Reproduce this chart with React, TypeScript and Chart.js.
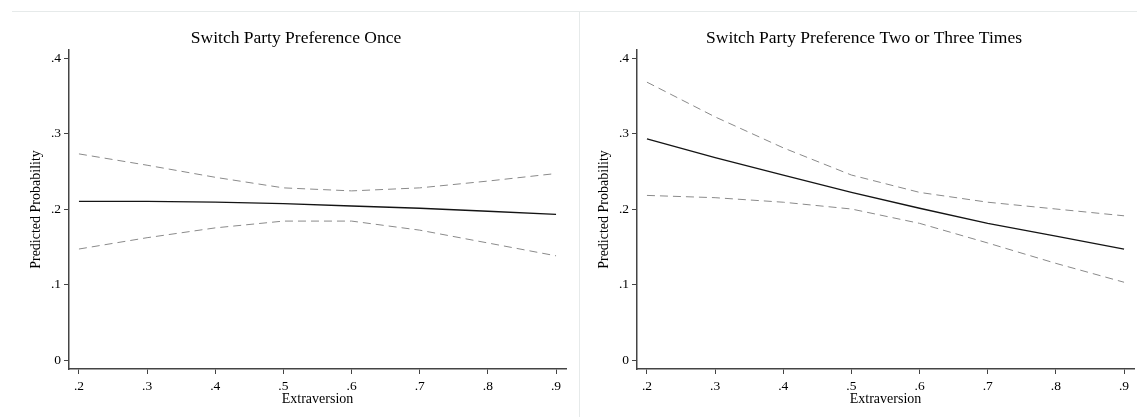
import React, { useEffect, useRef } from "react";
import { Chart, registerables } from "chart.js";

Chart.register(...registerables);

const extraversion = [0.2, 0.3, 0.4, 0.5, 0.6, 0.7, 0.8, 0.9];
const xTickLabels = [".2", ".3", ".4", ".5", ".6", ".7", ".8", ".9"];
const yTicks = [0, 0.1, 0.2, 0.3, 0.4];
const yTickLabels = ["0", ".1", ".2", ".3", ".4"];

const onceMean = [0.21, 0.21, 0.209, 0.207, 0.204, 0.201, 0.197, 0.193];
const onceUpper = [0.273, 0.258, 0.242, 0.228, 0.224, 0.228, 0.237, 0.247];
const onceLower = [0.147, 0.162, 0.175, 0.184, 0.184, 0.172, 0.155, 0.138];

const multiMean = [0.293, 0.268, 0.245, 0.222, 0.201, 0.181, 0.164, 0.147];
const multiUpper = [0.368, 0.322, 0.281, 0.245, 0.222, 0.209, 0.2, 0.191];
const multiLower = [0.218, 0.215, 0.209, 0.2, 0.181, 0.155, 0.128, 0.103];

const FONT = "'Liberation Serif', 'Times New Roman', serif";

function toPoints(ys: number[]) {
  return extraversion.map((x, i) => ({ x, y: ys[i] }));
}

function Panel(props: { title: string; mean: number[]; upper: number[]; lower: number[] }) {
  const ref = useRef<HTMLCanvasElement | null>(null);
  useEffect(() => {
    if (!ref.current) return;
    const dashed = {
      borderColor: "#8a8a8a",
      borderWidth: 1,
      borderDash: [8, 5],
      pointRadius: 0,
      tension: 0,
      fill: false,
    };
    const chart = new Chart(ref.current, {
      type: "line",
      data: {
        datasets: [
          { ...dashed, label: "upper", data: toPoints(props.upper) },
          { ...dashed, label: "lower", data: toPoints(props.lower) },
          {
            label: "mean",
            data: toPoints(props.mean),
            borderColor: "#141414",
            borderWidth: 1.3,
            pointRadius: 0,
            tension: 0,
            fill: false,
          },
        ],
      },
      options: {
        animation: false,
        responsive: false,
        devicePixelRatio: 1,
        layout: { padding: 0 },
        plugins: {
          legend: { display: false },
          tooltip: { enabled: false },
          title: {
            display: true,
            text: props.title,
            color: "#000",
            font: { family: FONT, size: 17.5, weight: "normal" },
            padding: { top: 15.5, bottom: 1.5 },
          },
        },
        scales: {
          x: {
            type: "linear",
            min: 0.1854,
            max: 0.9146,
            afterFit: (s: any) => {
              s.height = 48;
            },
            afterBuildTicks: (s: any) => {
              s.ticks = extraversion.map((v) => ({ value: v }));
            },
            ticks: {
              autoSkip: false,
              maxRotation: 0,
              padding: 4,
              color: "#000",
              font: { family: FONT, size: 13.5 },
              callback: (v: any) => {
                const i = extraversion.findIndex((e) => Math.abs(e - Number(v)) < 1e-6);
                return i >= 0 ? xTickLabels[i] : "";
              },
            },
            grid: {
              display: true,
              drawOnChartArea: false,
              drawTicks: true,
              tickLength: 5,
              color: "#444",
            },
            border: { display: true, color: "#444", width: 1.5 },
            title: {
              display: true,
              text: "Extraversion",
              color: "#000",
              font: { family: FONT, size: 14 },
              padding: { top: 0, bottom: 9 },
            },
          },
          y: {
            type: "linear",
            min: -0.0119,
            max: 0.4106,
            afterFit: (s: any) => {
              s.width = 57;
            },
            afterBuildTicks: (s: any) => {
              s.ticks = yTicks.map((v) => ({ value: v }));
            },
            ticks: {
              autoSkip: false,
              padding: 3,
              color: "#000",
              font: { family: FONT, size: 13.5 },
              callback: (v: any) => {
                const i = yTicks.findIndex((e) => Math.abs(e - Number(v)) < 1e-6);
                return i >= 0 ? yTickLabels[i] : "";
              },
            },
            grid: {
              display: true,
              drawOnChartArea: false,
              drawTicks: true,
              tickLength: 5,
              color: "#444",
            },
            border: { display: true, color: "#444", width: 1.5 },
            title: {
              display: true,
              text: "Predicted Probability",
              color: "#000",
              font: { family: FONT, size: 14 },
              padding: { top: 15.5, bottom: 0 },
            },
          },
          spacer: {
            type: "linear",
            position: "right",
            display: true,
            afterFit: (s: any) => {
              s.width = 14;
            },
            ticks: { display: false },
            grid: { display: false },
            border: { display: false },
            title: { display: false },
          },
        },
      } as any,
    });
    return () => chart.destroy();
  }, [props.title]);
  return <canvas ref={ref} width={568} height={405} style={{ display: "block" }} />;
}

export default function App() {
  return (
    <div
      style={{
        position: "fixed",
        left: 0,
        top: 0,
        width: 1137,
        height: 417,
        overflow: "hidden",
        background: "#fff",
      }}
    >
      <div style={{ position: "absolute", left: 12, top: 11, width: 1125, height: 1, background: "#e6eaea" }} />
      <div style={{ position: "absolute", left: 579, top: 11, width: 1, height: 406, background: "#e6eaea" }} />
      <div style={{ position: "absolute", left: 12, top: 12, width: 568, height: 405 }}>
        <Panel title="Switch Party Preference Once" mean={onceMean} upper={onceUpper} lower={onceLower} />
      </div>
      <div style={{ position: "absolute", left: 580, top: 12, width: 568, height: 405 }}>
        <Panel
          title="Switch Party Preference Two or Three Times"
          mean={multiMean}
          upper={multiUpper}
          lower={multiLower}
        />
      </div>
    </div>
  );
}
